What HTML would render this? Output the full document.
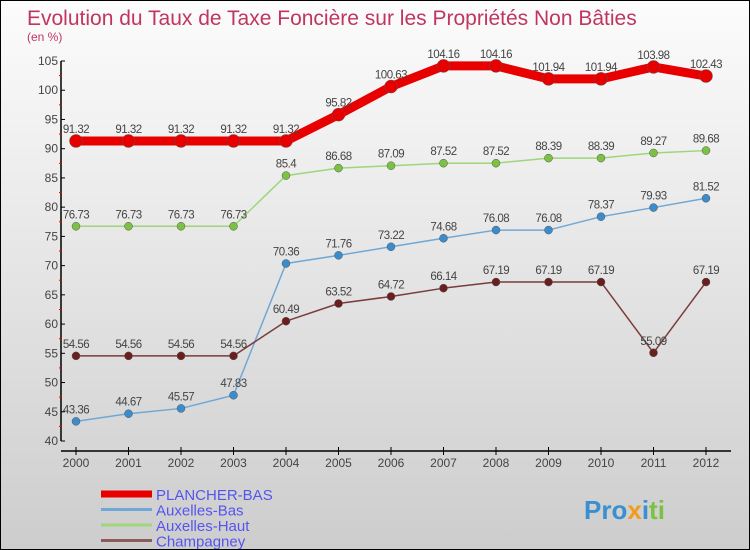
<!DOCTYPE html>
<html><head><meta charset="utf-8"><style>
body{margin:0}
#c{width:750px;height:550px;position:relative;box-sizing:border-box;border:1px solid #000;background:linear-gradient(#fcfcfc,#cdcdcd);font-family:"Liberation Sans",sans-serif;overflow:hidden}
</style></head><body>
<div id="c">
<svg id="s" width="750" height="550" style="position:absolute;left:0;top:0">
<text x="26" y="24" font-size="21" fill="#c0365f">Evolution du Taux de Taxe Foncière sur les Propriétés Non Bâties</text>
<text x="26" y="40" font-size="12" fill="#c0365f">(en %)</text>
<g id="axes"></g><g id="series"></g><g id="legend"></g>
<text x="583" y="518" font-size="26" font-weight="bold" fill="#3a8fd0">Pro<tspan fill="#f29b1c">x</tspan><tspan fill="#3a8fd0">i</tspan><tspan fill="#7cc242">ti</tspan></text>
</svg>
</div>
<script>
const years=[2000,2001,2002,2003,2004,2005,2006,2007,2008,2009,2010,2011,2012];
const plancher=[91.32,91.32,91.32,91.32,91.32,95.82,100.63,104.16,104.16,101.94,101.94,103.98,102.43];
const auxBas=[43.36,44.67,45.57,47.83,70.36,71.76,73.22,74.68,76.08,76.08,78.37,79.93,81.52];
const auxHaut=[76.73,76.73,76.73,76.73,85.4,86.68,87.09,87.52,87.52,88.39,88.39,89.27,89.68];
const champ=[54.56,54.56,54.56,54.56,60.49,63.52,64.72,66.14,67.19,67.19,67.19,55.09,67.19];
const yTicks=[40,45,50,55,60,65,70,75,80,85,90,95,100,105];
const names=["PLANCHER-BAS","Auxelles-Bas","Auxelles-Haut","Champagney"];
const NS="http://www.w3.org/2000/svg";
const X=i=>75+i*52.5, Y=v=>440-(v-40)*(380/65);
function mk(t,a,p){const e=document.createElementNS(NS,t);for(const k in a)e.setAttribute(k,a[k]);p.appendChild(e);return e;}
const ax=document.getElementById('axes');
let l=mk('line',{x1:60,y1:60,x2:60,y2:440,stroke:'#000','stroke-width':1.5},ax);


l=mk('line',{x1:60,y1:450,x2:730,y2:450,stroke:'#000','stroke-width':1.5},ax);


yTicks.forEach(v=>{mk('line',{x1:60,y1:Y(v),x2:64,y2:Y(v),stroke:'#000'},ax);
 if(v<105)mk('line',{x1:58,y1:Y(v+2.5),x2:61,y2:Y(v+2.5),stroke:'#e00'},ax);
 const t=mk('text',{x:57,y:Y(v)+4,'font-size':12,fill:'#444','text-anchor':'end'},ax);t.textContent=v;
 
 });
years.forEach((y,i)=>{mk('line',{x1:X(i),y1:446,x2:X(i),y2:454,stroke:'#000'},ax);
 const t=mk('text',{x:X(i),y:466,'font-size':12,fill:'#444','text-anchor':'middle'},ax);t.textContent=y;
 
 });
const sg=document.getElementById('series');
function series(d,col,w,r,dot,name){
 const g=mk('g',{},sg);
 
 
 mk('polyline',{points:d.map((v,i)=>X(i)+','+Y(v)).join(' '),fill:'none',stroke:col,'stroke-width':w,'stroke-linejoin':'round'},g);
 d.forEach((v,i)=>{const c=mk('circle',{cx:X(i),cy:Y(v),r:r,fill:dot,stroke:'#555','stroke-width':0.5},g);
  
  
  const t=mk('text',{x:X(i),y:Y(v)-8,'font-size':11.5,fill:'#444','text-anchor':'middle','letter-spacing':'-0.5'},g);t.textContent=v;
  
  });
}
series(auxBas,'#6fa8d6',1.5,4,'#3a8ccc','auxelles-bas-series');
series(champ,'#7a3b3b',1.5,4,'#6a1f1f','champagney-series');
series(auxHaut,'#9ed67a',1.5,4,'#7cc242','auxelles-haut-series');
series(plancher,'#e80000',9,6.5,'#e80000','plancher-bas-series');
const lg=document.getElementById('legend');
const cols=['#e80000','#6fa8d6','#9ed67a','#8b5a5a'],ws=[7,3,3,3];
names.forEach((n,i)=>{const y=493+i*15.5;
 const g=mk('g',{},lg);
 
 
 mk('line',{x1:100,y1:y,x2:151,y2:y,stroke:cols[i],'stroke-width':ws[i]},g);
 const t=mk('text',{x:155,y:y+6,'font-size':15,fill:'#5555ee'},g);t.textContent=n;});
</script>
</body></html>
